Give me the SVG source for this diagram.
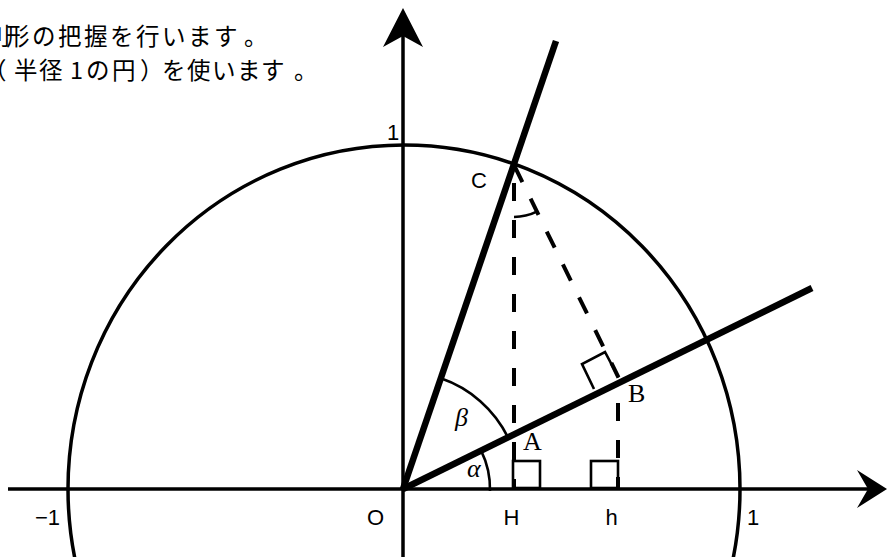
<svg xmlns="http://www.w3.org/2000/svg" width="887" height="557" viewBox="0 0 887 557">
<style>
.jp{font-family:"Noto Sans CJK JP","Noto Sans",sans-serif;font-size:23.5px;fill:#000}
.lab{font-family:"Liberation Sans",Arial,sans-serif;font-size:22px;fill:#000}
.ser{font-family:"Liberation Serif","Times New Roman",serif;font-size:26px;fill:#000}
.gr{font-family:"Liberation Serif","Times New Roman",serif;font-size:26px;font-style:italic;fill:#000}
.thin{fill:none;stroke:#000;stroke-width:3.5}
.thick{fill:none;stroke:#000;stroke-width:6.5;stroke-linecap:butt}
.dash{fill:none;stroke:#000;stroke-width:4;stroke-dasharray:18 18.6}
.mark{fill:none;stroke:#000;stroke-width:2.6}
</style>
<rect width="887" height="557" fill="#fff"/>
<g id="circle">
<ellipse cx="404" cy="489" rx="336" ry="344" class="thin"/>
</g>
<g id="axes">
<line x1="8" y1="489" x2="872" y2="489" class="thin"/>
<path d="M887,489 L857,470 L868,489 L857,508 Z" fill="#000"/>
<line x1="403" y1="557" x2="403" y2="32" class="thin"/>
<path d="M403,8 L383,47 L403,36 L423,47 Z" fill="#000"/>
</g>
<g id="rays">
<line x1="403" y1="489" x2="556" y2="41" class="thick"/>
<line x1="403" y1="489" x2="812" y2="288" class="thick"/>
</g>
<g id="connectors">
<line x1="514" y1="183" x2="514" y2="489" class="dash" style="stroke-dasharray:18 19"/>
<line x1="514" y1="165" x2="618.5" y2="377.5" class="dash" style="stroke-dashoffset:-1"/>
<line x1="618" y1="403" x2="618" y2="489" class="dash" style="stroke-dasharray:18 19"/>
</g>
<g id="marks">
<rect x="513" y="461" width="27" height="27" class="mark"/>
<rect x="591" y="461" width="27" height="27" class="mark"/>
<path d="M594,389 L582,364 L605,352 L618.5,377.5" class="mark"/>
<path d="M514,217 A52,52 0 0 0 536.8,211.7" class="mark"/>
<path d="M490,491 A87,87 0 0 0 481.1,450.6" class="mark"/>
<path d="M508,437.4 A117,117 0 0 0 440.8,378.3" class="mark"/>
</g>
<g id="labels">
<text class="lab" x="387" y="140">1</text>
<text class="lab" x="471" y="188">C</text>
<text class="lab" x="35" y="525">−1</text>
<text class="lab" x="367" y="525">O</text>
<text class="lab" x="503.5" y="525">H</text>
<text class="lab" x="605.5" y="525">h</text>
<text class="lab" x="747" y="525">1</text>
<text class="ser" x="523" y="450">A</text>
<text class="ser" x="628" y="402">B</text>
<text class="gr" x="455" y="426">β</text>
<text class="gr" x="467" y="477">α</text>
</g>
<g id="caption">
<text class="jp" y="45" x="-13 6 32 58 84 110 136 162 188 214 244">刂形の把握を行います。</text>
<text class="jp" y="79" x="-17 14 39 62 70 82 86 112 140 162 187 212 237 261 294">（半径 1 の円）を使います。</text>
</g>
</svg>
